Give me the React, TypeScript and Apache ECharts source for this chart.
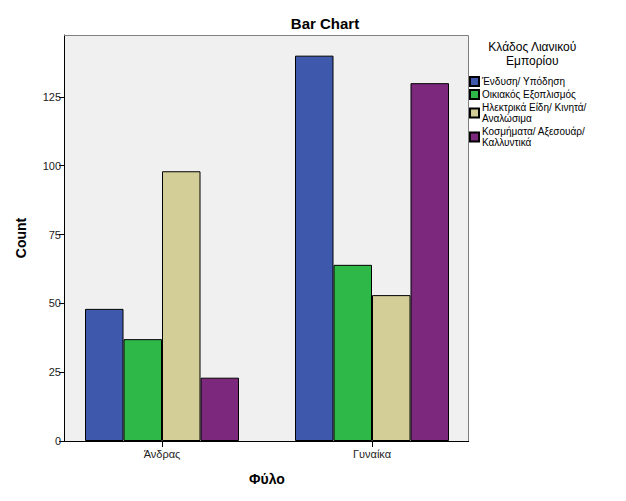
import React, { useEffect, useRef } from "react";
import * as echarts from "echarts";

const categories = ["Άνδρας", "Γυναίκα"];
const seriesNames = [
  "Ένδυση/ Υπόδηση",
  "Οικιακός Εξοπλισμός",
  "Ηλεκτρικά Είδη/ Κινητά/ Αναλώσιμα",
  "Κοσμήματα/ Αξεσουάρ/ Καλλυντικά",
];
const legendLabels = [
  "Ένδυση/ Υπόδηση",
  "Οικιακός Εξοπλισμός",
  "Ηλεκτρικά Είδη/ Κινητά/\nΑναλώσιμα",
  "Κοσμήματα/ Αξεσουάρ/\nΚαλλυντικά",
];
const clothing = [48, 140];
const household = [37, 64];
const electronics = [98, 53];
const jewelry = [23, 130];
const colors = ["#3e58ac", "#2eb848", "#d3ce97", "#7b287d"];
const yTicks = [0, 25, 50, 75, 100, 125];

const FONT = "Liberation Sans, Arial, sans-serif";

export default function App() {
  const ref = useRef<HTMLDivElement>(null);
  useEffect(() => {
    if (!ref.current) return;
    const chart = echarts.init(ref.current, undefined, { renderer: "svg" });
    const values = [clothing, household, electronics, jewelry];
    chart.setOption({
      animation: false,
      backgroundColor: "#ffffff",
      textStyle: { fontFamily: FONT },
      title: {
        text: "Bar Chart",
        left: 320,
        textAlign: "center",
        top: 11,
        textStyle: { fontFamily: FONT, fontSize: 15, fontWeight: "bold", color: "#000" },
      },
      legend: {
        orient: "vertical",
        left: 469,
        top: 76,
        padding: 0,
        itemWidth: 9,
        itemHeight: 9,
        itemGap: 2,
        icon: "rect",
        data: seriesNames,
        formatter: (name: string) => legendLabels[seriesNames.indexOf(name)],
        textStyle: { fontFamily: FONT, fontSize: 10, color: "#000", lineHeight: 11, padding: [0, 0, 0, -2] },
      },
      grid: { left: 57, right: 149, top: 35, bottom: 60, containLabel: false },
      xAxis: {
        type: "category",
        data: categories,
        name: "Φύλο",
        nameLocation: "middle",
        nameGap: 31,
        nameTextStyle: { fontFamily: FONT, fontSize: 14, fontWeight: "bold", color: "#000" },
        axisLine: { show: false },
        axisTick: { show: true, alignWithLabel: true, length: 6, lineStyle: { color: "#000" } },
        axisLabel: { fontFamily: FONT, fontSize: 11, color: "#222", margin: 7 },
      },
      yAxis: {
        type: "value",
        min: 0,
        max: 147.5,
        interval: 25,
        offset: -7,
        name: "Count",
        nameLocation: "middle",
        nameGap: 36,
        nameRotate: 90,
        nameTextStyle: { fontFamily: FONT, fontSize: 14, fontWeight: "bold", color: "#000" },
        axisLine: { show: true, lineStyle: { color: "#000" } },
        axisTick: { show: true, length: 5, customValues: yTicks, lineStyle: { color: "#000" } },
        axisLabel: { fontFamily: FONT, fontSize: 11, color: "#222", margin: 3, customValues: yTicks },
        splitLine: { show: false },
      },
      graphic: [
        {
          type: "rect",
          z: -10,
          shape: { x: 64, y: 35, width: 405, height: 406 },
          style: { fill: "#f0f0f0", stroke: "none" },
        },
        {
          type: "polyline",
          z: 50,
          shape: { points: [[64, 35.5], [468.5, 35.5], [468.5, 441]] },
          style: { fill: "none", stroke: "#808080", lineWidth: 1 },
        },
        {
          type: "line",
          z: 50,
          shape: { x1: 64, y1: 441.5, x2: 469, y2: 441.5 },
          style: { stroke: "#000", lineWidth: 1 },
        },
        {
          type: "text",
          left: 488,
          top: 40,
          style: {
            text: "Κλάδος Λιανικού\nΕμπορίου",
            fontFamily: FONT,
            fontSize: 12,
            lineHeight: 14,
            textAlign: "center",
            fill: "#000",
          },
        },
      ],
      series: seriesNames.map((name, i) => ({
        name,
        type: "bar",
        data: values[i],
        barWidth: 38.5,
        barGap: "0%",
        itemStyle: { color: colors[i], borderColor: "#000", borderWidth: 1 },
      })),
    });
    return () => chart.dispose();
  }, []);
  return <div ref={ref} style={{ width: 626, height: 501, position: "absolute", left: 0, top: 0 }} />;
}
